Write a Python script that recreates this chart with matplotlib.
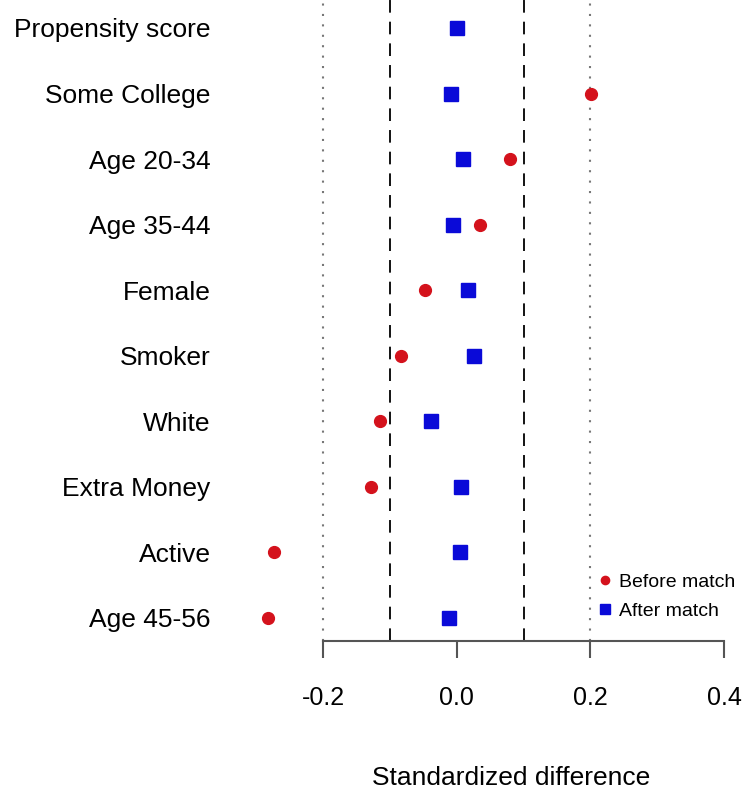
import numpy as np
import matplotlib
matplotlib.use("Agg")
import matplotlib.pyplot as plt

plt.rcParams['font.family'] = ['Liberation Sans', 'DejaVu Sans']

# covariates, bottom to top
labels = ["Age 45-56", "Active", "Extra Money", "White", "Smoker",
          "Female", "Age 35-44", "Age 20-34", "Some College", "Propensity score"]
before = [-0.282, -0.273, -0.128, -0.115, -0.083, -0.047, 0.035, 0.080, 0.201, np.nan]
after = [-0.011, 0.005, 0.006, -0.038, 0.026, 0.017, -0.005, 0.009, -0.008, 0.000]

ypos = np.arange(1, len(labels) + 1)

fig = plt.figure(figsize=(7.43, 7.9), dpi=100)
ax = fig.add_axes([230 / 743, 149 / 790, 513 / 743, 641 / 790])

ax.axvline(-0.2, color='#777777', lw=1.5, ls=(0, (1, 4)), zorder=1)
ax.axvline(0.2, color='#777777', lw=1.5, ls=(0, (1, 4)), zorder=1)
ax.axvline(-0.1, color='black', lw=1.3, ls=(0, (7, 5)), zorder=1)
ax.axvline(0.1, color='black', lw=1.3, ls=(0, (7, 5)), zorder=1)

ax.plot(before, ypos, 'o', color='#d4121c', ms=8.5, ls='none', label='Before match', zorder=3)
ax.plot(after, ypos, 's', color='#0a0ad8', ms=9.5, ls='none', label='After match', zorder=3)

ax.set_xlim(-0.3392, 0.4284)
ax.set_ylim(0.649, 10.427)

for s in ['top', 'right', 'left']:
    ax.spines[s].set_visible(False)
ax.spines['bottom'].set_bounds(-0.2, 0.4)
ax.spines['bottom'].set_color('#555555')
ax.spines['bottom'].set_linewidth(1.5)

ax.set_xticks([-0.2, 0.0, 0.2, 0.4])
ax.set_xticklabels(['-0.2', '0.0', '0.2', '0.4'])
ax.tick_params(axis='x', length=12.5, width=1.5, color='#555555', pad=20, labelsize=18)
ax.set_yticks(ypos)
ax.set_yticklabels(labels)
ax.tick_params(axis='y', length=0, pad=14, labelsize=19)

fig.text(511 / 743, 12 / 790, 'Standardized difference', ha='center', va='center', fontsize=19)

ax.legend(loc='upper left', bbox_to_anchor=(598 / 743, 1 - 573 / 790),
          bbox_transform=fig.transFigure, frameon=False, fontsize=14,
          handlelength=0.75, handletextpad=0.35, borderaxespad=0, borderpad=0,
          labelspacing=0.6, markerscale=0.7)

fig.savefig('out.png', dpi=100)
